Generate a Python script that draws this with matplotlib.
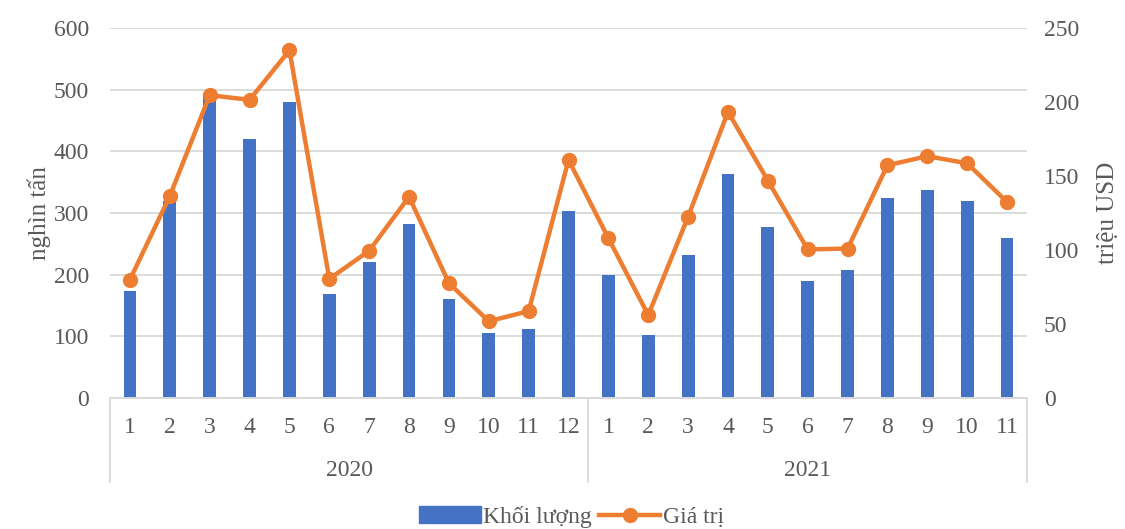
import numpy as np
import matplotlib.pyplot as plt
from matplotlib.lines import Line2D
from matplotlib.patches import Patch

# monthly volume (thousand tonnes) and value (million USD)
years = ["2020", "2021"]
months_2020 = [str(m) for m in range(1, 13)]
months_2021 = [str(m) for m in range(1, 12)]
khoi_luong = [174, 320, 490, 420, 480, 168, 221, 283, 160, 106, 112, 304,
              200, 103, 232, 363, 278, 190, 207, 324, 338, 319, 260]
gia_tri = [80, 136.5, 204.6, 201.5, 234.9, 80.5, 99.5, 136, 77.6, 51.9, 58.7, 160.9,
           108, 56, 122.5, 193.4, 146.9, 100.4, 101, 157.3, 163.4, 158.6, 132.4]

blue = "#4472C4"
orange = "#ED7D31"
grid_c = "#D9D9D9"
txt_c = "#595959"

plt.rcParams['font.family'] = ['Liberation Serif', 'DejaVu Serif']
plt.rcParams['font.size'] = 17

labels = months_2020 + months_2021
x = np.arange(len(labels))

fig = plt.figure(figsize=(11.25, 5.29), dpi=100)
ax = fig.add_axes([0.0978, 0.2476, 0.8151, 0.6994])
ax2 = ax.twinx()

ax.bar(x, khoi_luong, width=0.32, color=blue, zorder=2)
ax2.plot(x, gia_tri, color=orange, lw=3.2, marker='o', ms=10, zorder=3)

ax.set_xlim(-0.5, len(labels) - 0.5)
ax.set_ylim(0, 600)
ax.set_yticks(range(0, 601, 100))
ax2.set_ylim(0, 250)
ax2.set_yticks(range(0, 251, 50))

ax.yaxis.grid(True, color=grid_c, lw=1.3, zorder=0)
ax.set_axisbelow(True)
ax.set_zorder(1)
ax2.set_zorder(2)
ax.patch.set_visible(False)

for a in (ax, ax2):
    for s in ("top", "left", "right"):
        a.spines[s].set_visible(False)
    a.spines["bottom"].set_color(grid_c)
    a.spines["bottom"].set_linewidth(1.3)
    a.tick_params(axis='y', length=0, colors=txt_c, labelsize=17)

ax.tick_params(axis='y', pad=15)
ax2.tick_params(axis='y', pad=12)

# month labels, year labels and category separators
ax.set_xticks([])
trans = ax.get_xaxis_transform()
for i, lab in enumerate(labels):
    ax.text(i, -0.08, lab, transform=trans, ha='center', va='center',
            color=txt_c, fontsize=17)
n20 = len(months_2020)
for sep in (-0.5, n20 - 0.5, len(labels) - 0.5):
    ax.plot([sep, sep], [0, -0.227], transform=trans, color=grid_c, lw=1.3,
            clip_on=False)
ax.text((n20 - 1) / 2, -0.195, years[0], transform=trans, ha='center',
        va='center', color=txt_c, fontsize=17)
ax.text(n20 + (len(months_2021) - 1) / 2, -0.195, years[1], transform=trans,
        ha='center', va='center', color=txt_c, fontsize=17)

ax.set_ylabel("nghìn tấn", color=txt_c, fontsize=18, labelpad=2)
ax2.set_ylabel("triệu USD", color=txt_c, fontsize=18, labelpad=13)

handles = [Patch(color=blue, label="Khối lượng"),
           Line2D([0], [0], color=orange, lw=3.2, marker='o', ms=10,
                  label="Giá trị")]
leg = fig.legend(handles=handles, loc='center', bbox_to_anchor=(0.508, 0.023),
                 ncol=2, frameon=False, fontsize=17, handlelength=2.6,
                 columnspacing=0.3, handletextpad=0.1)
for t in leg.get_texts():
    t.set_color(txt_c)

fig.savefig("out.png", dpi=100)
